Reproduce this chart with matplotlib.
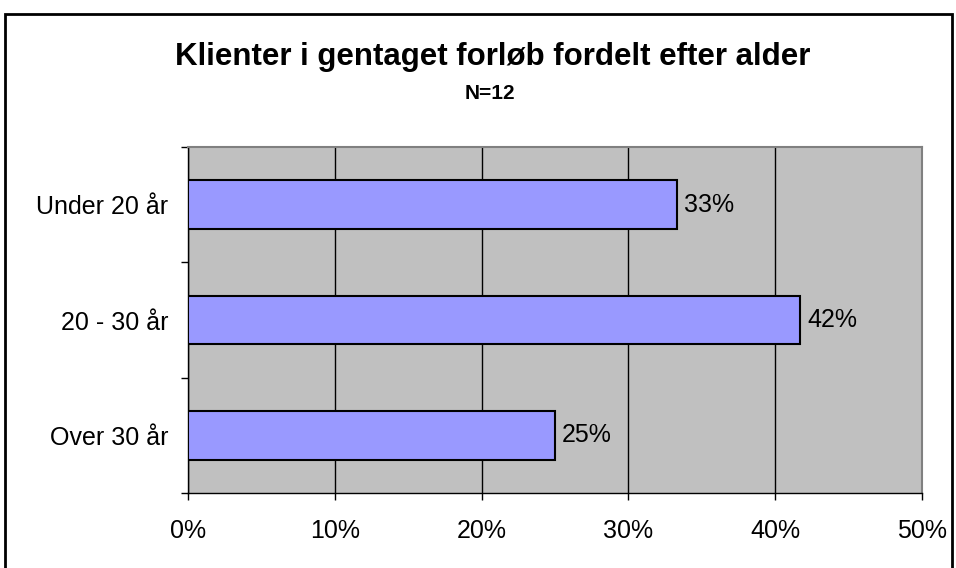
import matplotlib
matplotlib.use("Agg")
import matplotlib.pyplot as plt
from matplotlib.patches import Rectangle
from matplotlib.ticker import FixedLocator, PercentFormatter

plt.rcParams["font.family"] = ["Liberation Sans", "DejaVu Sans"]

# data
categories = ["Under 20 år", "20 - 30 år", "Over 30 år"]
values = [0.333, 0.417, 0.25]
value_labels = ["33%", "42%", "25%"]
x_ticks = [0.0, 0.1, 0.2, 0.3, 0.4, 0.5]

W, H = 956, 568
FS = 18
fig = plt.figure(figsize=(W / 100, H / 100), dpi=100)

# chart frame
fig.patches.append(Rectangle((5 / W, -0.02), 947 / W, 1 - 14 / H + 0.02,
                             transform=fig.transFigure, fill=False,
                             edgecolor="black", linewidth=2))

ax = fig.add_axes([188 / W, 1 - 493 / H, 734 / W, 346 / H])
ax.set_facecolor("#C0C0C0")

pos = list(range(len(categories)))
ax.barh(pos, values, height=0.42, color="#9999FF", edgecolor="black",
        linewidth=1.5, zorder=3)
for p, v, lab in zip(pos, values, value_labels):
    ax.annotate(lab, (v, p), xytext=(5, 0), textcoords="offset points",
                va="center", ha="left", fontsize=FS, zorder=4)

ax.set_xlim(0, 0.5)
ax.set_ylim(2.5, -0.5)
ax.xaxis.set_major_locator(FixedLocator(x_ticks))
ax.xaxis.set_major_formatter(PercentFormatter(1.0, decimals=0))
ax.grid(axis="x", color="black", linewidth=1, zorder=1)

# category ticks between bars, labels centred on bars
ax.yaxis.set_major_locator(FixedLocator([-0.5, 0.5, 1.5, 2.5]))
ax.set_yticklabels([])
ax.yaxis.set_minor_locator(FixedLocator(pos))
ax.set_yticklabels(categories, minor=True)
ax.tick_params(axis="y", which="major", length=5, width=1, direction="out")
ax.tick_params(axis="y", which="minor", length=0, pad=14, labelsize=FS)
ax.tick_params(axis="x", length=5, width=1, direction="out", pad=14, labelsize=FS)

for s in ["top", "right"]:
    ax.spines[s].set_color("#808080")
    ax.spines[s].set_linewidth(1.5)
for s in ["left", "bottom"]:
    ax.spines[s].set_color("black")
    ax.spines[s].set_linewidth(1)

fig.text(493 / W, 1 - 57 / H, "Klienter i gentaget forløb fordelt efter alder",
         ha="center", va="center", fontsize=22.5, fontweight="bold")
fig.text(490 / W, 1 - 93 / H, "N=12", ha="center", va="center",
         fontsize=15, fontweight="bold")

fig.savefig("out.png", dpi=100, facecolor="white")
